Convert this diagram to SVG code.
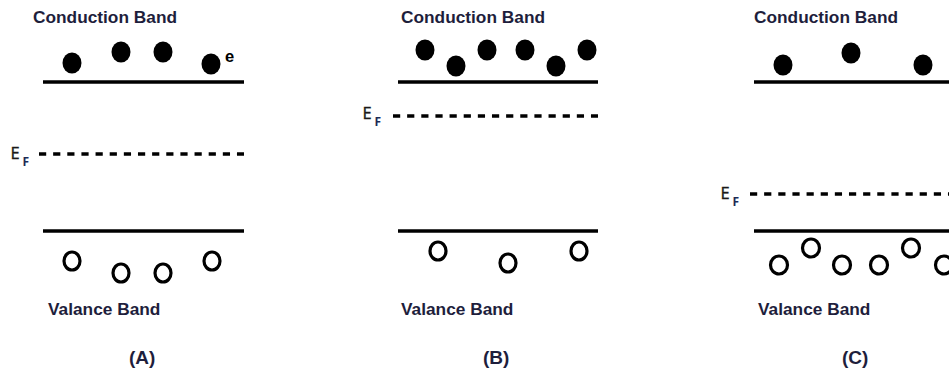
<svg xmlns="http://www.w3.org/2000/svg" width="949" height="371" viewBox="0 0 949 371">
<style>
.lbl{font-family:"Liberation Sans",Arial,sans-serif;font-weight:bold;font-size:17.3px;fill:#1e1e3c}
.cap{font-family:"Liberation Sans",Arial,sans-serif;font-weight:bold;font-size:19px;fill:#1e1e3c}
.band{stroke:#000;stroke-width:3.3;fill:none}
.ef{stroke:#000;stroke-width:3.6;stroke-dasharray:7.2 6.94;fill:none}
.el{fill:#000}
.hole{fill:none;stroke:#000;stroke-width:3.2}
.E{font-family:"Noto Sans","Open Sans",sans-serif;font-size:16.5px;fill:#1a1a1a;stroke:#1a1a1a;stroke-width:0.3}
.F{font-family:"Noto Sans","Open Sans",sans-serif;font-size:12px;font-weight:bold;fill:#1d2a55}
.e{font-family:"Liberation Sans",Arial,sans-serif;font-weight:bold;font-size:16.5px;fill:#000}
</style>
<rect width="949" height="371" fill="#fff"/>
<g id="panelA">
  <text class="lbl" x="33" y="23">Conduction Band</text>
  <line class="band" x1="43" y1="82" x2="244" y2="82"/>
  <ellipse class="el" cx="72" cy="63" rx="9.5" ry="10.5"/>
  <ellipse class="el" cx="121" cy="52" rx="9.5" ry="10.5"/>
  <ellipse class="el" cx="163" cy="52" rx="9.5" ry="10.5"/>
  <ellipse class="el" cx="211" cy="64" rx="9.5" ry="10.5"/>
  <text class="e" x="225" y="62">e</text>
  <text class="E" x="10.5" y="158.5">E</text>
  <text class="F" x="22.5" y="165.5">F</text>
  <line class="ef" x1="39" y1="154" x2="244" y2="154"/>
  <line class="band" x1="43" y1="231" x2="244" y2="231"/>
  <ellipse class="hole" cx="72" cy="261" rx="8" ry="9"/>
  <ellipse class="hole" cx="121" cy="273" rx="8" ry="9"/>
  <ellipse class="hole" cx="163" cy="273" rx="8" ry="9"/>
  <ellipse class="hole" cx="212" cy="261" rx="8" ry="9"/>
  <text class="lbl" x="48" y="315">Valance Band</text>
  <text class="cap" x="129" y="364">(A)</text>
</g>
<g id="panelB">
  <text class="lbl" x="401" y="23">Conduction Band</text>
  <line class="band" x1="398" y1="82" x2="598" y2="82"/>
  <ellipse class="el" cx="425" cy="50" rx="9.5" ry="10.5"/>
  <ellipse class="el" cx="456" cy="66" rx="9.5" ry="10.5"/>
  <ellipse class="el" cx="487" cy="50" rx="9.5" ry="10.5"/>
  <ellipse class="el" cx="525" cy="50" rx="9.5" ry="10.5"/>
  <ellipse class="el" cx="556" cy="66" rx="9.5" ry="10.5"/>
  <ellipse class="el" cx="587" cy="50" rx="9.5" ry="10.5"/>
  <text class="E" x="362.5" y="119">E</text>
  <text class="F" x="374.5" y="126">F</text>
  <line class="ef" x1="393" y1="116" x2="598" y2="116"/>
  <line class="band" x1="398" y1="231" x2="598" y2="231"/>
  <ellipse class="hole" cx="438" cy="251" rx="8" ry="9"/>
  <ellipse class="hole" cx="508" cy="263" rx="8" ry="9"/>
  <ellipse class="hole" cx="579" cy="251" rx="8" ry="9"/>
  <text class="lbl" x="401" y="315">Valance Band</text>
  <text class="cap" x="483" y="364">(B)</text>
</g>
<g id="panelC">
  <text class="lbl" x="754" y="23">Conduction Band</text>
  <line class="band" x1="754" y1="82" x2="949" y2="82"/>
  <ellipse class="el" cx="783" cy="65" rx="9.5" ry="10.5"/>
  <ellipse class="el" cx="851" cy="53" rx="9.5" ry="10.5"/>
  <ellipse class="el" cx="923" cy="65" rx="9.5" ry="10.5"/>
  <text class="E" x="720.5" y="199">E</text>
  <text class="F" x="732.5" y="206">F</text>
  <line class="ef" x1="750" y1="194" x2="949" y2="194"/>
  <line class="band" x1="754" y1="231" x2="949" y2="231"/>
  <ellipse class="hole" cx="779" cy="265" rx="8.5" ry="9"/>
  <ellipse class="hole" cx="811" cy="248" rx="8.5" ry="9"/>
  <ellipse class="hole" cx="842" cy="265" rx="8.5" ry="9"/>
  <ellipse class="hole" cx="879" cy="265" rx="8.5" ry="9"/>
  <ellipse class="hole" cx="911" cy="248" rx="8.5" ry="9"/>
  <ellipse class="hole" cx="944" cy="265" rx="8.5" ry="9"/>
  <text class="lbl" x="758" y="315">Valance Band</text>
  <text class="cap" x="842" y="364">(C)</text>
</g>
<g id="connectors"></g>
</svg>
